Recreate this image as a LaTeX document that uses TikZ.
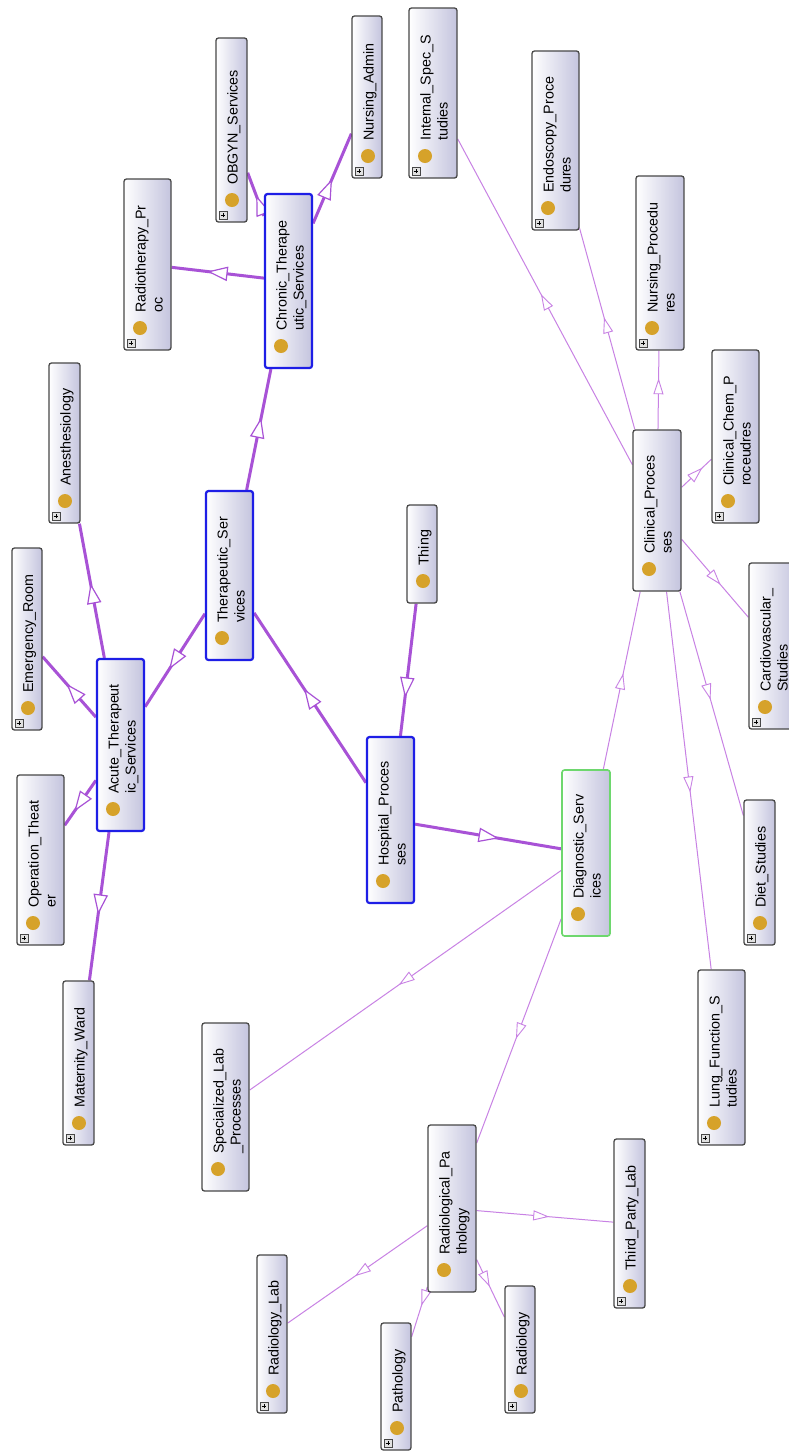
\documentclass[tikz,border=0pt]{standalone}
\usepackage{fontspec}
\setmainfont{Liberation Sans}
\usetikzlibrary{decorations.markings,backgrounds}

\definecolor{boxfill}{RGB}{196,196,222}
\definecolor{boxline}{RGB}{72,72,72}
\definecolor{openblue}{RGB}{30,30,230}
\definecolor{selgreen}{RGB}{110,215,110}
\definecolor{dotgold}{RGB}{214,162,42}
\definecolor{thickpurple}{RGB}{168,82,214}
\definecolor{thinpurple}{RGB}{200,130,228}
\definecolor{plusfill}{RGB}{225,225,225}

\tikzset{
  ogbox/.style={rectangle, rounded corners=2.5pt, draw=boxline, line width=1.3pt,
    left color=white, right color=boxfill, inner sep=0pt},
  expanded/.style={draw=openblue, line width=2.2pt},
  selected/.style={draw=selgreen, line width=1.6pt},
  oglabel/.style={rotate=90, anchor=north west, inner sep=0pt, align=left,
    font=\fontsize{14.3}{17}\selectfont},
  thickedge/.style={draw=thickpurple, line width=3pt},
  thinedge/.style={draw=thinpurple, line width=1pt},
  thickedge tip/.style={postaction={decorate}, decoration={markings,
    mark=at position 0.5 with {\draw[thickpurple, line width=1.2pt, fill=white, line join=miter]
      (-9pt,-6.5pt) -- (9pt,0pt) -- (-9pt,6.5pt) -- cycle;}}},
  thinedge tip/.style={postaction={decorate}, decoration={markings,
    mark=at position 0.5 with {\draw[thinpurple, line width=0.9pt, fill=white, line join=miter]
      (-7pt,-4.5pt) -- (7pt,0pt) -- (-7pt,4.5pt) -- cycle;}}}
}

% #1 name, #2..#3 left/right, #4..#5 top/bottom, #6 box style, #7 label, #8 expand marker (1/0)
\newcommand\ogclass[8]{%
  \node[ogbox,#6,minimum width={(#3)-(#2)},minimum height={(#5)-(#4)}]
    (#1) at ({((#2)+(#3))/2},{((#4)+(#5))/2}) {};
  \node[oglabel] (#1-label) at ({(#2)+11},{(#5)-37}) {#7};
  \fill[dotgold] ({(#2)+16},{(#5)-22}) circle (7pt);
  \ifnum#8=1
    \draw[fill=plusfill, draw=boxline, line width=0.6pt]
      ({(#2)+3},{(#5)-3}) rectangle ({(#2)+11},{(#5)-11});
    \draw[black, line width=0.9pt] ({(#2)+4.6},{(#5)-7}) -- ({(#2)+9.4},{(#5)-7});
    \draw[black, line width=0.9pt] ({(#2)+7},{(#5)-4.6}) -- ({(#2)+7},{(#5)-9.4});
  \fi
}

% subclass link: #1 edge style, #2 parent, #3 child
\newcommand\ogedge[3]{%
  \draw[#1] (#2) -- (#3);
  \path[#1 tip] (#2.center) -- (#3.center);
}

\begin{document}
\begin{tikzpicture}[x=1pt,y=-1pt]
\useasboundingbox (0,0) rectangle (789,1452);
\clip (0,0) rectangle (789,1452);

\ogclass{optheater}{17}{64}{775}{945}{}{Operation\_Theat\\er}{1}
\ogclass{maternity}{63}{94}{981}{1145}{}{Maternity\_Ward}{1}
\ogclass{emergency}{12}{42}{548}{730}{}{Emergency\_Room}{1}
\ogclass{anesth}{49}{80}{363}{523}{}{Anesthesiology}{1}
\ogclass{acute}{97}{144}{659}{831}{expanded}{Acute\_Therapeut\\ic\_Services}{0}
\ogclass{therapeutic}{206}{253}{491}{660}{expanded}{Therapeutic\_Ser\\vices}{0}
\ogclass{radiotherapy}{124}{171}{179}{350}{}{Radiotherapy\_Pr\\oc}{1}
\ogclass{obgyn}{216}{247}{38}{222}{}{OBGYN\_Services}{1}
\ogclass{chronic}{265}{312}{194}{368}{expanded}{Chronic\_Therape\\utic\_Services}{0}
\ogclass{nursadmin}{352}{382}{16}{178}{}{Nursing\_Admin}{1}
\ogclass{internal}{409}{457}{8}{178}{}{Internal\_Spec\_S\\tudies}{1}
\ogclass{endoscopy}{532}{579}{51}{230}{}{Endoscopy\_Proce\\dures}{1}
\ogclass{nursproc}{636}{684}{176}{350}{}{Nursing\_Procedu\\res}{1}
\ogclass{clinchem}{712}{759}{350}{523}{}{Clinical\_Chem\_P\\roceudres}{1}
\ogclass{cardio}{749}{797}{563}{729}{}{Cardiovascular\_\\Studies}{1}
\ogclass{clinical}{633}{681}{430}{591}{}{Clinical\_Proces\\ses}{0}
\ogclass{thing}{407}{437}{505}{603}{}{Thing}{0}
\ogclass{hospital}{367}{414}{737}{903}{expanded}{Hospital\_Proces\\ses}{0}
\ogclass{diagnostic}{562}{610}{770}{936}{selected}{Diagnostic\_Serv\\ices}{0}
\ogclass{diet}{744}{775}{800}{945}{}{Diet\_Studies}{1}
\ogclass{lung}{698}{745}{970}{1145}{}{Lung\_Function\_S\\tudies}{1}
\ogclass{speclab}{202}{249}{1023}{1191}{}{Specialized\_Lab\\\_Processes}{0}
\ogclass{radpath}{428}{476}{1125}{1292}{}{Radiological\_Pa\\thology}{0}
\ogclass{thirdparty}{614}{645}{1139}{1308}{}{Third\_Party\_Lab}{1}
\ogclass{radlab}{257}{287}{1255}{1413}{}{Radiology\_Lab}{1}
\ogclass{pathology}{381}{411}{1323}{1450}{}{Pathology}{1}
\ogclass{radiology}{505}{535}{1286}{1413}{}{Radiology}{1}

\begin{scope}[on background layer]
  \fill[white] (0,0) rectangle (789,1452);
  % asserted hierarchy, drawn heavy
  \ogedge{thickedge}{thing}{hospital}
  \ogedge{thickedge}{hospital}{therapeutic}
  \ogedge{thickedge}{hospital}{diagnostic}
  \ogedge{thickedge}{therapeutic}{acute}
  \ogedge{thickedge}{therapeutic}{chronic}
  \ogedge{thickedge}{acute}{anesth}
  \ogedge{thickedge}{acute}{emergency}
  \ogedge{thickedge}{acute}{optheater}
  \ogedge{thickedge}{acute}{maternity}
  \ogedge{thickedge}{chronic}{radiotherapy}
  \ogedge{thickedge}{chronic}{obgyn}
  \ogedge{thickedge}{chronic}{nursadmin}
  % diagnostic branch, drawn light
  \ogedge{thinedge}{diagnostic}{clinical}
  \ogedge{thinedge}{diagnostic}{speclab}
  \ogedge{thinedge}{diagnostic}{radpath}
  \ogedge{thinedge}{clinical}{internal}
  \ogedge{thinedge}{clinical}{endoscopy}
  \ogedge{thinedge}{clinical}{nursproc}
  \ogedge{thinedge}{clinical}{clinchem}
  \ogedge{thinedge}{clinical}{cardio}
  \ogedge{thinedge}{clinical}{diet}
  \ogedge{thinedge}{clinical}{lung}
  \ogedge{thinedge}{radpath}{thirdparty}
  \ogedge{thinedge}{radpath}{radlab}
  \ogedge{thinedge}{radpath}{pathology}
  \ogedge{thinedge}{radpath}{radiology}
\end{scope}
\end{tikzpicture}
\end{document}
